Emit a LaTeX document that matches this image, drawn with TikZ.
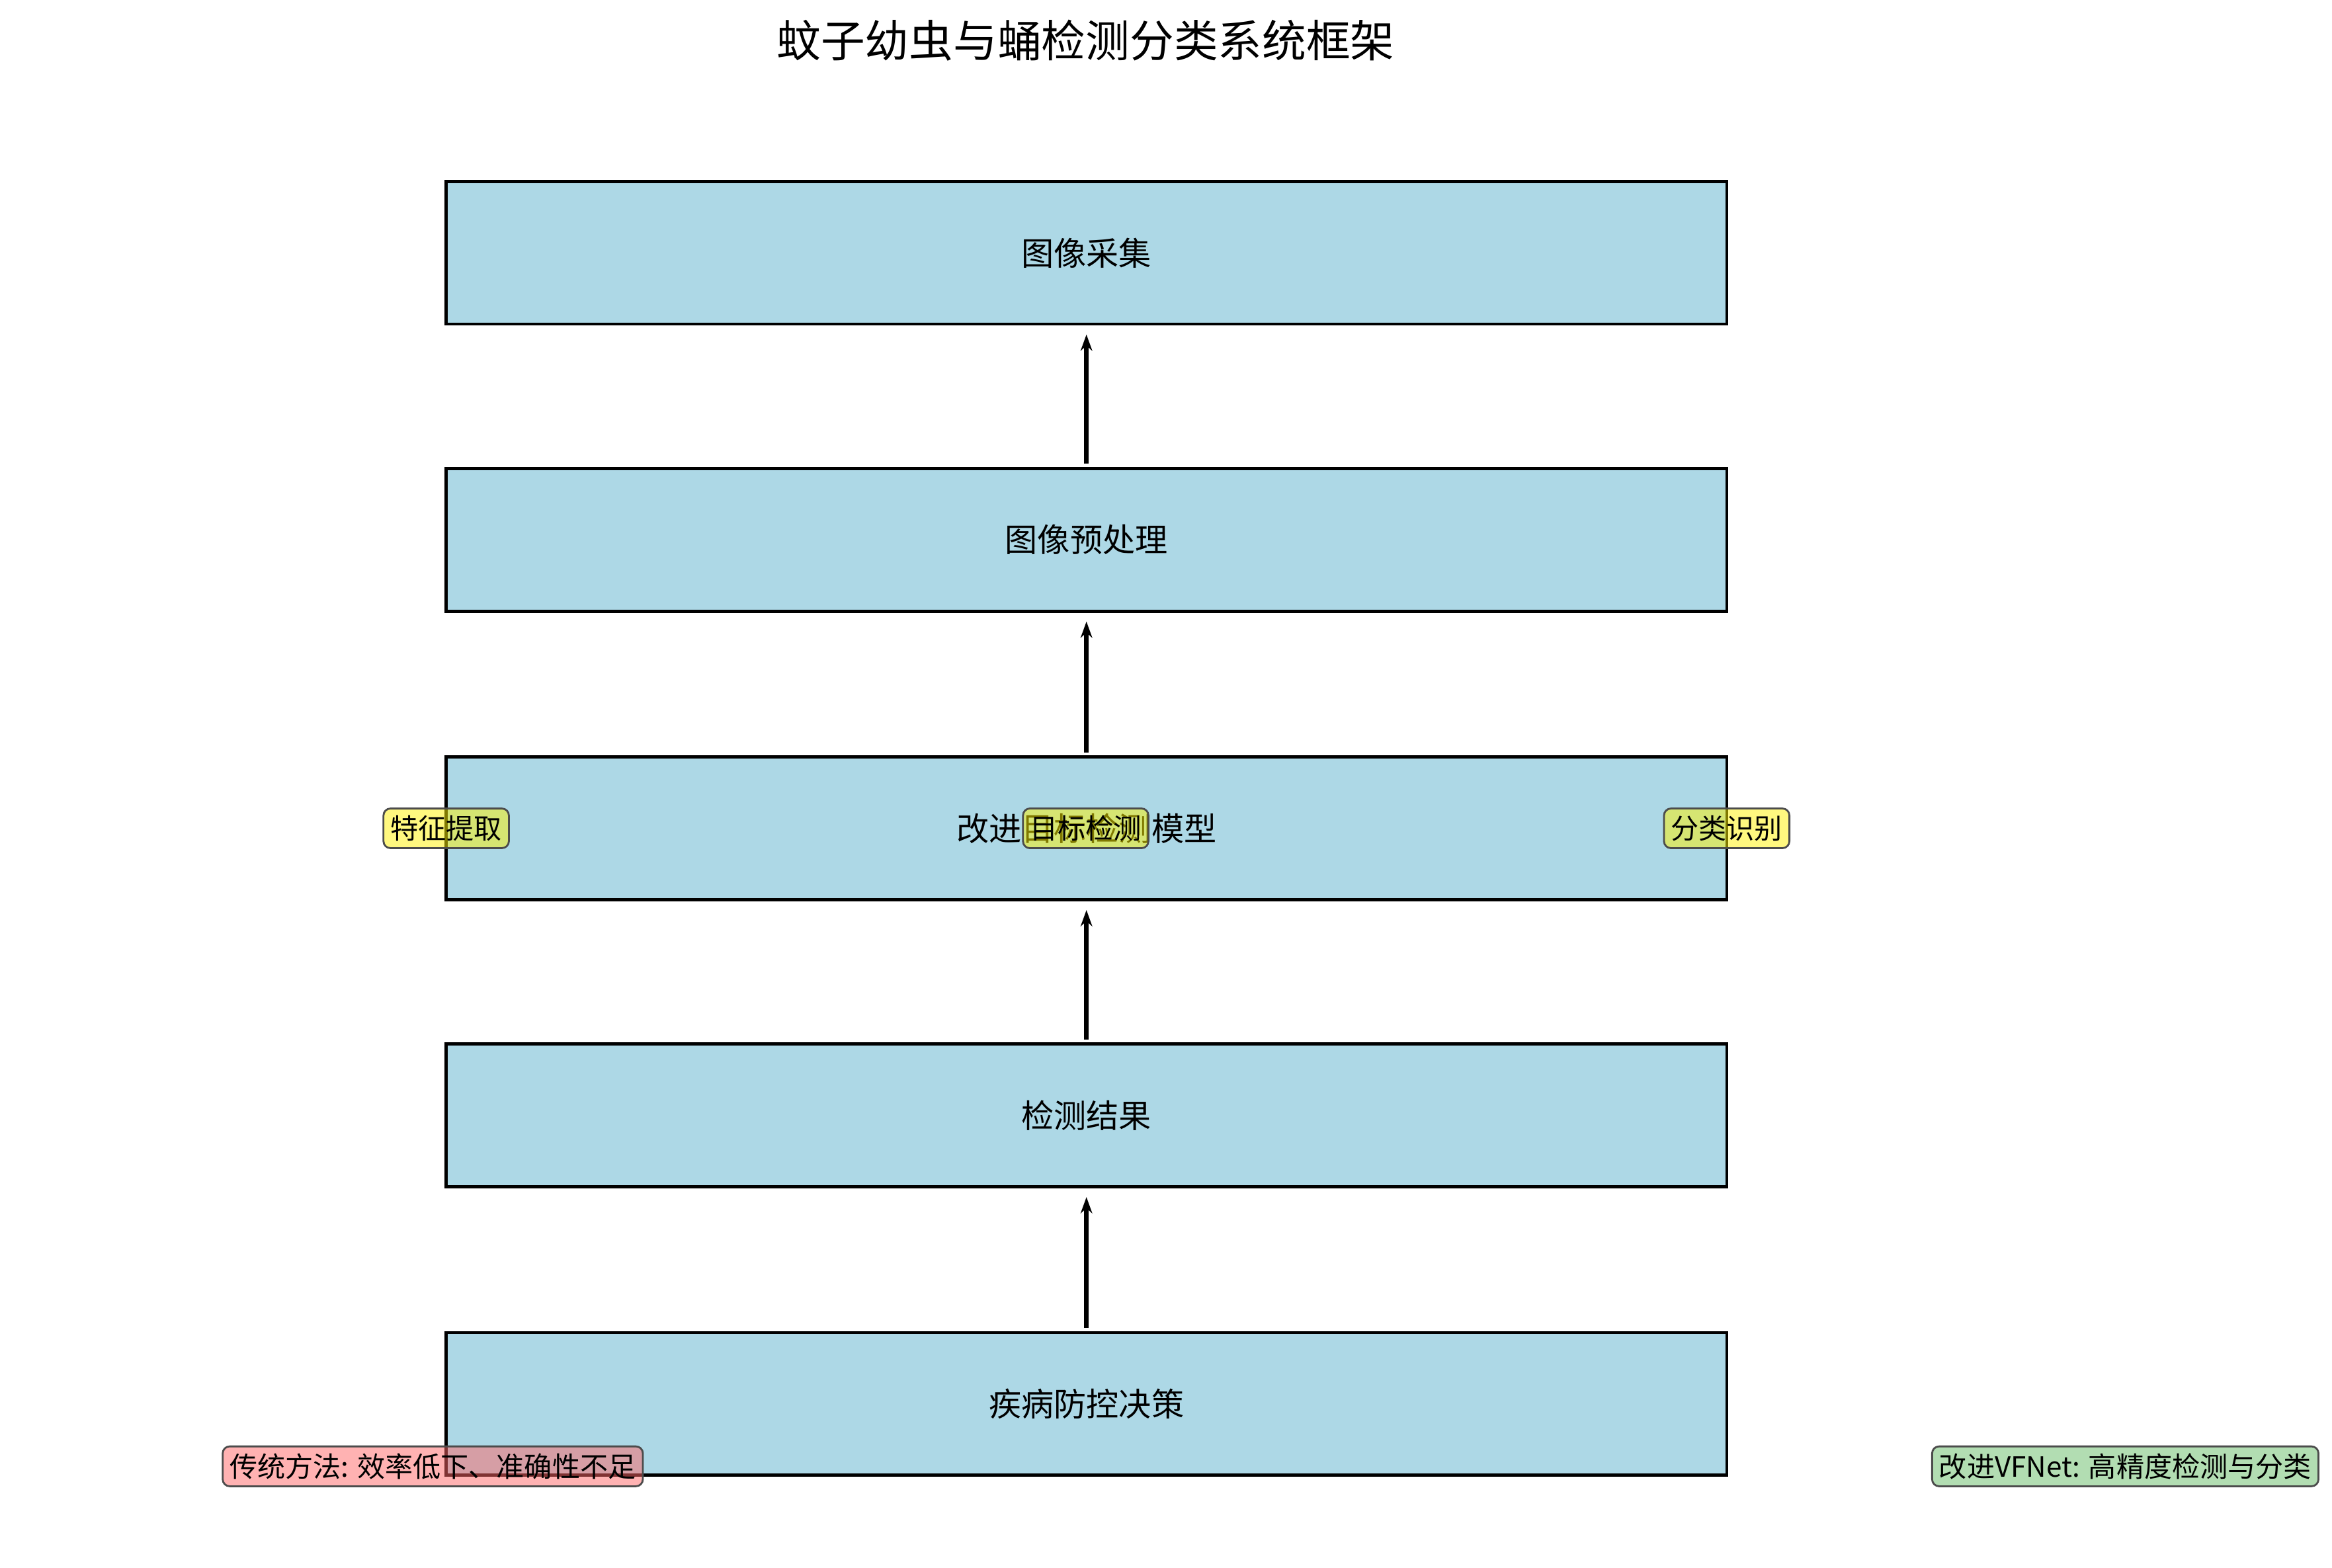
\documentclass[tikz,border=0pt]{standalone}
\usepackage{fontspec}
\setmainfont{Noto Sans CJK SC}
\usetikzlibrary{arrows.meta}
\definecolor{lb}{HTML}{ADD8E6}
\definecolor{gn}{HTML}{66BB66}
\begin{document}
\begin{tikzpicture}[x=0.0225cm,y=-0.0225cm,
  stage/.style={draw=black,line width=1.3pt,fill=lb,minimum width=861*0.0225cm,minimum height=96*0.0225cm,font=\fontsize{14}{16}\selectfont},
  tag/.style={draw=black!70,fill opacity=0.5,text opacity=1,rounded corners=3pt,line width=0.8pt,inner sep=3pt,font=\fontsize{12}{14}\selectfont},
  flow/.style={-{Stealth[length=7pt,width=5pt]},line width=2pt}]
\useasboundingbox (0,0) rectangle (1568,1054);
\node[font=\fontsize{19}{22}\selectfont] (title) at (730,27) {蚊子幼虫与蛹检测分类系统框架};
\node[stage] (s1) at (730.5,170) {图像采集};
\node[stage] (s2) at (730.5,363) {图像预处理};
\node[stage] (s3) at (730.5,557) {改进目标检测模型};
\node[stage] (s4) at (730.5,750) {检测结果};
\node[stage] (s5) at (730.5,944) {疾病防控决策};
\draw[flow] ([yshift=1.3pt]s2.north) -- ([yshift=-3.8pt]s1.south);
\draw[flow] ([yshift=1.3pt]s3.north) -- ([yshift=-3.8pt]s2.south);
\draw[flow] ([yshift=1.3pt]s4.north) -- ([yshift=-3.8pt]s3.south);
\draw[flow] ([yshift=1.3pt]s5.north) -- ([yshift=-3.8pt]s4.south);
\node[tag,fill=yellow] (t1) at (300,557) {特征提取};
\node[tag,fill=yellow] (t2) at (730,557) {目标检测};
\node[tag,fill=yellow] (t3) at (1161,557) {分类识别};
\node[tag,fill=red!60] (n1) at (291,986) {传统方法: 效率低下、准确性不足};
\node[tag,fill=gn] (n2) at (1429,986) {改进VFNet: 高精度检测与分类};
\end{tikzpicture}
\end{document}
